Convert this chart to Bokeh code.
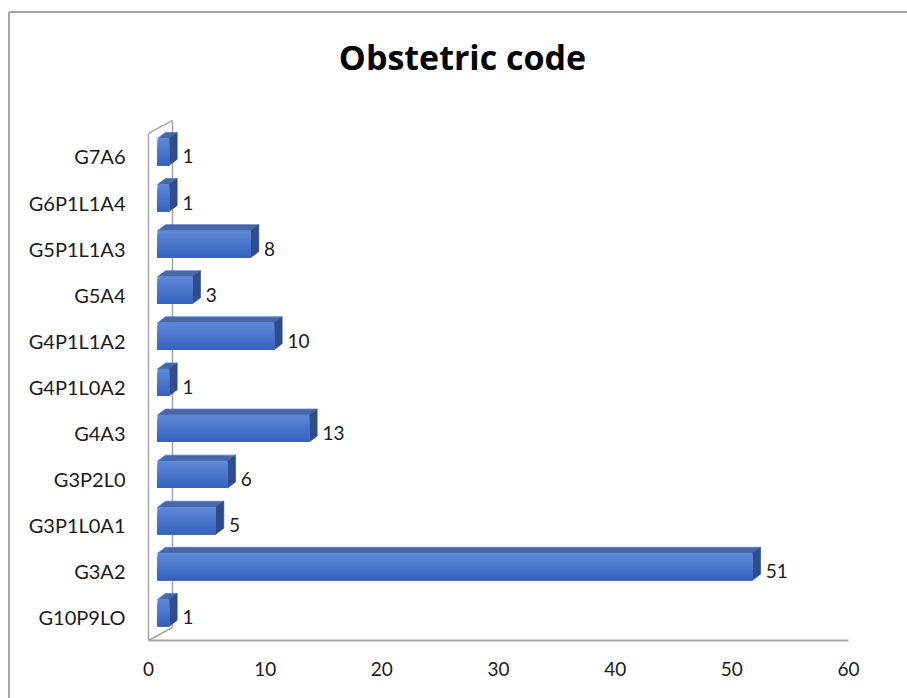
from bokeh.plotting import figure
from bokeh.models import Range1d
from bokeh.core.properties import value
from bokeh.embed import file_html
from bokeh.resources import INLINE

# Obstetric code counts, bottom to top
categories = ["G10P9LO", "G3A2", "G3P1L0A1", "G3P2L0", "G4A3", "G4P1L0A2",
              "G4P1L1A2", "G5A4", "G5P1L1A3", "G6P1L1A4", "G7A6"]
counts = [1, 51, 5, 6, 13, 1, 10, 3, 8, 1, 1]
x_ticks = [0, 10, 20, 30, 40, 50, 60]
title = "Obstetric code"

FONT = "Lato"
TITLE_FONT = "Open Sans"
GRID_GREY = "#a6a6a6"
TEXT = "#1a1a1a"
W, H = 907, 698

# plot area: value 0 sits at x=148 px, 60 at x=848 px; the floor edge at y=640 px
ORIGIN_X, ORIGIN_Y = 148, 640
PX_X = 700 / 60.0   # pixels per count
PX_Y = 46.1         # pixels per category band


def dx(px):
    """horizontal pixel offset -> data units"""
    return px / PX_X


def dy(px):
    """vertical pixel offset (downwards) -> data units"""
    return -px / PX_Y


# pseudo-3D geometry (in data units)
DX = dx(9)         # front face offset from the wall
DDX = dx(8)        # depth offset along x
DDY = -dy(6)       # depth offset along y
FACE_LO = 0.307
FACE_HI = 0.89
N_CAT = len(categories)

p = figure(width=W, height=H, frame_width=W, frame_height=H,
           min_border=0, x_axis_type=None, y_axis_type=None,
           x_range=Range1d(dx(-ORIGIN_X), dx(W - ORIGIN_X)),
           y_range=Range1d(dy(H - ORIGIN_Y), dy(-ORIGIN_Y)),
           output_backend="svg", toolbar_location=None)
p.outline_line_color = None
p.grid.visible = False
p.background_fill_color = "white"
p.border_fill_color = "white"

# chart area border (top and left edges)
bx, by = dx(8.5 - ORIGIN_X), dy(11.5 - ORIGIN_Y)
p.segment(x0=[bx, bx], y0=[by, by], x1=[dx(W + 5 - ORIGIN_X), bx], y1=[by, dy(H + 5 - ORIGIN_Y)],
          line_color=GRID_GREY, line_width=2)

# side wall outline and floor edge
back_x = dx(24)
back_dy = -dy(13)
p.segment(x0=[back_x], y0=[back_dy], x1=[back_x], y1=[N_CAT + back_dy],
          line_color=GRID_GREY, line_width=1.5)
p.segment(x0=[0, 0, 0], y0=[0, 0, N_CAT],
          x1=[0, back_x, back_x], y1=[N_CAT, back_dy, N_CAT + back_dy],
          line_color=GRID_GREY, line_width=1.5)
p.segment(x0=[x_ticks[0]], y0=[0], x1=[x_ticks[-1]], y1=[0],
          line_color=GRID_GREY, line_width=2)

# bars: top face, side face, shaded front face
top_xs, top_ys, side_xs, side_ys = [], [], [], []
for i, v in enumerate(counts):
    x0, x1 = DX, v + DX
    y0, y1 = i + FACE_LO, i + FACE_HI
    top_xs.append([x0, x1, x1 + DDX, x0 + DDX])
    top_ys.append([y1, y1, y1 + DDY, y1 + DDY])
    side_xs.append([x1, x1 + DDX, x1 + DDX, x1])
    side_ys.append([y0, y0 + DDY, y1 + DDY, y1])
p.patches(top_xs, top_ys, fill_color="#4767a9", line_color="#5b78b8", line_width=0.8)
p.patches(side_xs, side_ys, fill_color="#2e4d8c", line_color="#2a4682", line_width=0.6)

# front face: stacked bands, each covering everything below it, for a soft vertical shade
top_rgb = (0x5d, 0x87, 0xd6)
bot_rgb = (0x36, 0x63, 0xc2)
n_strips = 12
h = (FACE_HI - FACE_LO) / n_strips
for s in range(n_strips):
    t = s / (n_strips - 1)
    col = "#%02x%02x%02x" % tuple(int(round(a + (b - a) * t)) for a, b in zip(top_rgb, bot_rgb))
    p.quad(left=[DX] * N_CAT, right=[v + DX for v in counts],
           top=[i + FACE_HI - s * h for i in range(N_CAT)],
           bottom=[i + FACE_LO for i in range(N_CAT)],
           fill_color=col, line_color=None)

# value labels
p.text(x=[v + DX + DDX + 0.45 for v in counts], y=[i + 0.5 for i in range(N_CAT)],
       text=[str(v) for v in counts], text_font=value(FONT),
       text_font_size="19px", text_color=TEXT,
       text_align="left", text_baseline="middle")

# value axis tick labels
p.text(x=x_ticks, y=[dy(28)] * len(x_ticks), text=[str(t) for t in x_ticks],
       text_font=value(FONT), text_font_size="19px", text_color=TEXT,
       text_align="center", text_baseline="middle")

# category labels
p.text(x=[dx(-23)] * N_CAT, y=[i + 0.5 for i in range(N_CAT)], text=categories,
       text_font=value(FONT), text_font_size="20px", text_color=TEXT,
       text_align="right", text_baseline="middle")

# chart title
p.text(x=[dx(462 - ORIGIN_X)], y=[dy(56 - ORIGIN_Y)], text=[title],
       text_font=value(TITLE_FONT), text_font_style="bold", text_font_size="34px",
       text_color="#000000", text_align="center", text_baseline="middle")

open("out.html", "w").write(file_html(p, INLINE))
